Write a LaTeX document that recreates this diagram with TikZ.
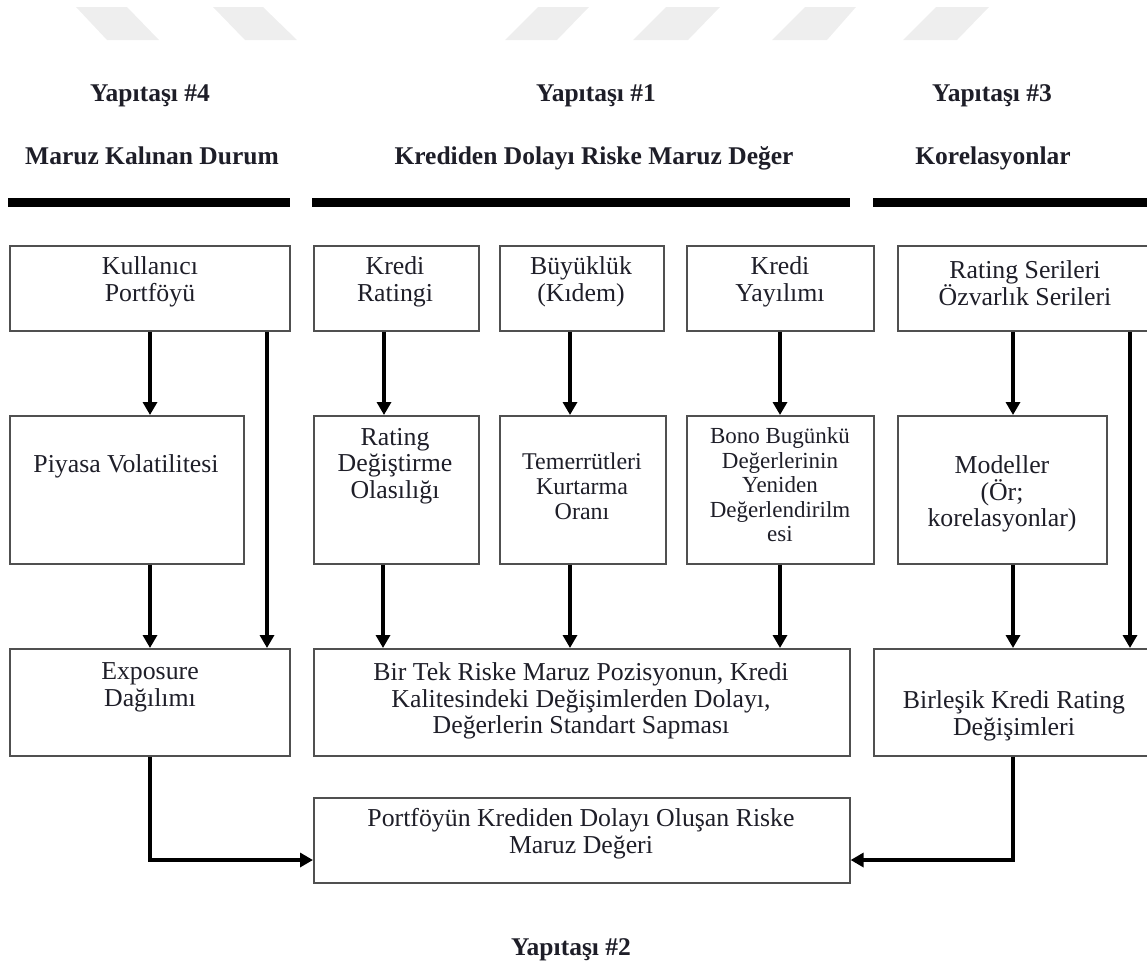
\documentclass[tikz,border=0pt]{standalone}
\usepackage{fontspec}
\setmainfont{Liberation Serif}
\usetikzlibrary{arrows.meta}
\definecolor{txtc}{HTML}{1E1E28}
\definecolor{boxc}{HTML}{505050}
\definecolor{wm}{HTML}{EEEEEE}
\begin{document}
\begin{tikzpicture}[x=1pt,y=-1pt,
  box/.style={draw=boxc, line width=1.6pt, inner sep=0pt, anchor=north west},
  txt/.style={align=center, text=txtc, font=\fontsize{25.8}{26.7}\selectfont, inner sep=0pt},
  txm/.style={align=center, text=txtc, font=\fontsize{24}{25}\selectfont, inner sep=0pt},
  txs/.style={align=center, text=txtc, font=\fontsize{23}{24.5}\selectfont, inner sep=0pt},
  hdr/.style={text=txtc, font=\bfseries\fontsize{25.5}{28}\selectfont, inner sep=0pt, anchor=base},
  arr/.style={line width=3.6pt, -{Triangle[width=14pt,length=13pt]}},
  bar/.style={fill=black}
]
\useasboundingbox (0,0) rectangle (1147,962);
% watermark shapes
\fill[wm] (76,7) -- (127,7) -- (159,40) -- (107,40) -- cycle;
\fill[wm] (213,7) -- (263,7) -- (297,40) -- (245,40) -- cycle;
\fill[wm] (538,7) -- (589,7) -- (557,40) -- (505,40) -- cycle;
\fill[wm] (666,7) -- (720,7) -- (688,40) -- (633,40) -- cycle;
\fill[wm] (805,7) -- (856,7) -- (827,40) -- (772,40) -- cycle;
\fill[wm] (936,7) -- (989,7) -- (957,40) -- (903,40) -- cycle;
% headers
\node[hdr] (h4) at (150,101) {Yapıtaşı \#4};
\node[hdr] (h1) at (596,101) {Yapıtaşı \#1};
\node[hdr] (h3) at (992,101) {Yapıtaşı \#3};
\node[hdr] (s4) at (152,164) {Maruz Kalınan Durum};
\node[hdr] (s1) at (594,164) {Krediden Dolayı Riske Maruz Değer};
\node[hdr] (s3) at (993,164) {Korelasyonlar};
\node[hdr] (h2) at (571,955) {Yapıtaşı \#2};
% bars
\fill[bar] (8,198) rectangle (290,207);
\fill[bar] (312,198) rectangle (850,207);
\fill[bar] (873,198) rectangle (1150,207);
% row 1 boxes
\node[box, minimum width=280pt, minimum height=85pt] (kp) at (9,245) {};
\node[box, minimum width=165pt, minimum height=85pt] (kr) at (313,245) {};
\node[box, minimum width=164pt, minimum height=85pt] (bk) at (499,245) {};
\node[box, minimum width=187pt, minimum height=85pt] (ky) at (686,245) {};
\node[box, minimum width=258pt, minimum height=85pt] (rs) at (897,245) {};
% row 2 boxes
\node[box, minimum width=234pt, minimum height=148pt] (pv) at (9,415) {};
\node[box, minimum width=165pt, minimum height=148pt] (rd) at (313,415) {};
\node[box, minimum width=166pt, minimum height=148pt] (tk) at (499,415) {};
\node[box, minimum width=187pt, minimum height=148pt] (bb) at (686,415) {};
\node[box, minimum width=209pt, minimum height=148pt] (md) at (897,415) {};
% row 3 boxes
\node[box, minimum width=280pt, minimum height=107pt] (ed) at (9,648) {};
\node[box, minimum width=536pt, minimum height=107pt] (bt) at (313,648) {};
\node[box, minimum width=285pt, minimum height=107pt] (bl) at (873,648) {};
% bottom box
\node[box, minimum width=536pt, minimum height=85pt] (pf) at (313,797) {};
% texts
\node[txt] (kpt) at (150,282) {Kullanıcı\\Portföyü};
\node[txt] (krt) at (395,282) {Kredi\\Ratingi};
\node[txt] (bkt) at (581,282) {Büyüklük\\(Kıdem)};
\node[txt] (kyt) at (780,282) {Kredi\\Yayılımı};
\node[txt] (rst) at (1025,283) {Rating Serileri\\Özvarlık Serileri};
\node[txt] (pvt) at (126,466) {Piyasa Volatilitesi};
\node[txt] (rdt) at (395,466) {Rating\\Değiştirme\\Olasılığı};
\node[txm] (tkt) at (582,486) {Temerrütleri\\Kurtarma\\Oranı};
\node[txs] (bbt) at (780,485) {Bono Bugünkü\\Değerlerinin\\Yeniden\\Değerlendirilm\\esi};
\node[txt] (mdt) at (1002,494) {Modeller\\(Ör;\\korelasyonlar)};
\node[txt] (edt) at (150,687) {Exposure\\Dağılımı};
\node[txt] (btt) at (581,701) {Bir Tek Riske Maruz Pozisyonun, Kredi\\Kalitesindeki Değişimlerden Dolayı,\\Değerlerin Standart Sapması};
\node[txt] (blt) at (1014,716) {Birleşik Kredi Rating\\Değişimleri};
\node[txt] (pft) at (581,834) {Portföyün Krediden Dolayı Oluşan Riske\\Maruz Değeri};
% connectors
\draw[arr] (kp.south -| 150,0) -- (pv.north -| 150,0);
\draw[arr] (kp.south -| 267,0) -- (ed.north -| 267,0);
\draw[arr] (kr.south -| 384,0) -- (rd.north -| 384,0);
\draw[arr] (bk.south -| 570,0) -- (tk.north -| 570,0);
\draw[arr] (ky.south -| 780,0) -- (bb.north -| 780,0);
\draw[arr] (rs.south -| 1013,0) -- (md.north -| 1013,0);
\draw[arr] (rs.south -| 1130,0) -- (bl.north -| 1130,0);
\draw[arr] (pv.south -| 150,0) -- (ed.north -| 150,0);
\draw[arr] (rd.south -| 383,0) -- (bt.north -| 383,0);
\draw[arr] (tk.south -| 570,0) -- (bt.north -| 570,0);
\draw[arr] (bb.south -| 780,0) -- (bt.north -| 780,0);
\draw[arr] (md.south -| 1013,0) -- (bl.north -| 1013,0);
\draw[arr] (ed.south -| 150,0) |- (pf.west |- 0,860);
\draw[arr] (bl.south -| 1013,0) |- (pf.east |- 0,860);
\end{tikzpicture}
\end{document}
